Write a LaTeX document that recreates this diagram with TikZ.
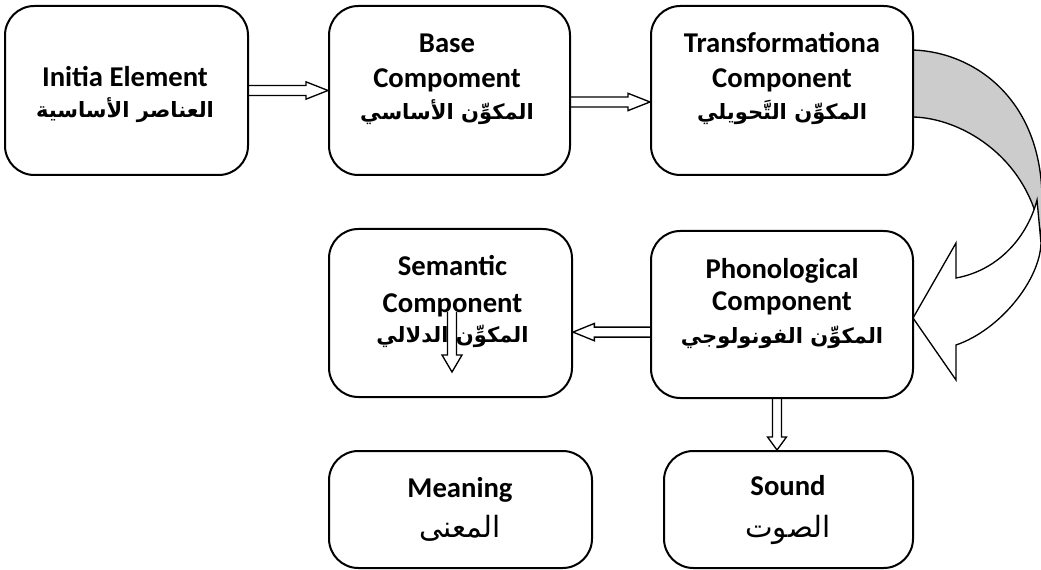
\documentclass[tikz,border=0pt]{standalone}
\usepackage{fontspec}
\setmainfont{Carlito}
\newfontfamily\arabicfont[Script=Arabic]{DejaVu Sans}
\TeXXeTstate=1
\usetikzlibrary{calc}
\definecolor{bandgray}{HTML}{CCCCCC}
\newcommand\hollowarrow[5]{%
  \coordinate (hh) at ($(#2)!#5!(#1)$);
  \draw[arrowline] ($(#1)!#3!90:(#2)$) -- ($(hh)!#3!90:(#2)$) -- ($(hh)!#4!90:(#2)$) -- (#2)
    -- ($(hh)!#4!-90:(#2)$) -- ($(hh)!#3!-90:(#2)$) -- ($(#1)!#3!-90:(#2)$);
}
\begin{document}
\begin{tikzpicture}[x=0.75pt,y=-0.75pt,
  box/.style={draw, line width=1.5pt, rounded corners=22pt, fill=white, inner sep=0pt},
  arrowline/.style={draw, line width=1pt, line join=miter},
  lat/.style={font=\fontsize{21.5}{24}\selectfont\bfseries, anchor=base, inner sep=0pt},
  ar/.style={font=\fontsize{15.8}{20}\selectfont\arabicfont\bfseries, anchor=base, inner sep=0pt},
  arr/.style={font=\fontsize{22}{24}\selectfont\arabicfont, anchor=base, inner sep=0pt}]
\useasboundingbox (0,0) rectangle (1041,570);
% curved block arrow
\draw[line width=1pt, fill=bandgray] (913,50) .. controls (975,52) and (1042,100) .. (1042,200)
   -- (1042,240) -- (1040,230) .. controls (1025,155) and (960,118) .. (913,117) -- cycle;
\draw[line width=1pt, fill=white, line join=miter] (1037,200) .. controls (1028,235) and (1000,270) .. (956,278)
   -- (956,243) -- (913,318) -- (956,380) -- (956,345)
   .. controls (1000,330) and (1040,280) .. (1041,243) -- cycle;
% boxes
\node[box, minimum width=182.25pt, minimum height=126.75pt] (b1) at (126.5,90.5) {};
\node[box, minimum width=180.75pt, minimum height=126.75pt] (b2) at (449.5,90.5) {};
\node[box, minimum width=196.5pt, minimum height=126.75pt] (b3) at (782,90.5) {};
\node[box, minimum width=196.5pt, minimum height=125.25pt] (b4) at (782,314.5) {};
\node[box, minimum width=182.25pt, minimum height=126pt] (b5) at (450.5,313) {};
\node[box, minimum width=197.25pt, minimum height=87.75pt] (b6) at (460.5,509.5) {};
\node[box, minimum width=186.75pt, minimum height=87.75pt] (b7) at (788.5,509.5) {};
% connectors
\hollowarrow{b1.east}{b2.west}{3.75pt}{6.5pt}{16.5pt}
\coordinate (a2s) at ([yshift=-8.6pt]b2.east);
\coordinate (a2e) at (a2s -| b3.west);
\hollowarrow{a2s}{a2e}{3.75pt}{6.5pt}{16.5pt}
\coordinate (a3s) at ([yshift=-13.2pt]b4.west);
\coordinate (a3e) at (a3s -| b5.east);
\hollowarrow{a3s}{a3e}{3.75pt}{6.5pt}{16pt}
\coordinate (a4s) at ([xshift=-3.75pt]b4.south);
\coordinate (a4e) at (a4s |- b7.north);
\hollowarrow{a4s}{a4e}{3.4pt}{7.1pt}{9.75pt}
\coordinate (s1) at (452,312);
\coordinate (s2) at (452,372);
\hollowarrow{s1}{s2}{3.4pt}{7.5pt}{12.75pt}
% texts
\node[lat] (t1a) at (125,87) {Initia Element};
\node[ar] (t1b) at (125,118) {\beginR العناصر الأساسية\endR};
\node[lat] (t2a) at (447,53) {Base};
\node[lat] (t2b) at (447,88) {Compoment};
\node[ar] (t2c) at (447,120) {\beginR المكوِّن الأساسي\endR};
\node[lat] (t3a) at (782,53) {Transformationa};
\node[lat] (t3b) at (782,88) {Component};
\node[ar] (t3c) at (782,120) {\beginR المكوِّن التَّحويلي\endR};
\node[lat] (t4a) at (782,278) {Phonological};
\node[lat] (t4b) at (782,310) {Component};
\node[ar] (t4c) at (782,343) {\beginR المكوِّن الفونولوجي\endR};
\node[lat] (t5a) at (452.5,275) {Semantic};
\node[lat] (t5b) at (452.5,312) {Component};
\node[ar] (t5c) at (452.5,342) {\beginR المكوِّن الدلالي\endR};
\node[lat] (t6a) at (460,497) {Meaning};
\node[arr] (t6b) at (460,537) {\beginR المعنى\endR};
\node[lat] (t7a) at (788,495) {Sound};
\node[arr] (t7b) at (788,537) {\beginR الصوت\endR};
\end{tikzpicture}
\end{document}
